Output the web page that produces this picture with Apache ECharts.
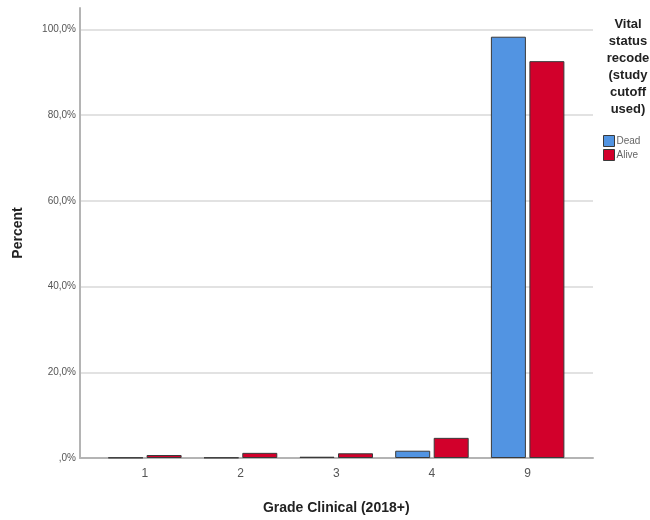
<!DOCTYPE html>
<html>
<head>
<meta charset="utf-8">
<script src="https://cdn.jsdelivr.net/npm/echarts@6/dist/echarts.min.js"></script>
<style>
  html, body { margin: 0; padding: 0; background: #fff; }
  #chart { width: 650px; height: 520px; }
</style>
</head>
<body>
<div id="chart"></div>
<script>
// Grade clinical categories and percent of cases within each vital status
const categories = ['1', '2', '3', '4', '9'];
const deadValues = [0.1, 0.1, 0.3, 1.7, 98.3];
const aliveValues = [0.7, 1.2, 1.1, 4.7, 92.6];
const yTicks = [0, 20, 40, 60, 80, 100];
const legendNames = ['Dead', 'Alive'];

const fmtPct = v => (v === 0 ? ',0%' : v.toFixed(1).replace('.', ',') + '%');

const chart = echarts.init(document.getElementById('chart'), null, { renderer: 'canvas' });

chart.setOption({
  backgroundColor: '#ffffff',
  animation: false,
  textStyle: { fontFamily: 'Liberation Sans, Arial, sans-serif' },
  title: {
    text: 'Vital\nstatus\nrecode\n(study\ncutoff\nused)',
    left: 623,
    top: 11,
    textAlign: 'center',
    textStyle: { fontSize: 13, fontWeight: 'bold', color: '#222', lineHeight: 17 }
  },
  legend: {
    data: legendNames,
    orient: 'vertical',
    left: 598,
    top: 130,
    itemWidth: 11,
    itemHeight: 11,
    itemGap: 2,
    icon: 'rect',
    itemStyle: { borderWidth: 1, borderColor: '#3a3a3a' },
    textStyle: { fontSize: 10, color: '#666', padding: [0, 0, 0, -3] }
  },
  grid: [
    // outer frame: axis lines and gridlines
    { left: 80, right: 57, top: 8, bottom: 62 },
    // bars
    { left: 97, right: 74.5, top: 8, bottom: 62 }
  ],
  xAxis: [
    {
      gridIndex: 0,
      type: 'value',
      min: 0,
      max: 1,
      axisLine: { show: true, lineStyle: { color: '#b4b4b4', width: 2 } },
      axisTick: { show: false },
      axisLabel: { show: false },
      splitLine: { show: false }
    },
    {
      gridIndex: 1,
      type: 'category',
      data: categories,
      axisLine: { show: false },
      axisTick: { show: false },
      axisLabel: { fontSize: 12, color: '#555', margin: 10 },
      name: 'Grade Clinical (2018+)',
      nameLocation: 'middle',
      nameGap: 43,
      nameTextStyle: { fontSize: 14, fontWeight: 'bold', color: '#222' }
    }
  ],
  yAxis: [
    {
      gridIndex: 0,
      type: 'value',
      min: 0,
      max: 105,
      interval: 20,
      axisLine: { show: true, lineStyle: { color: '#b4b4b4', width: 2 } },
      axisTick: { show: false },
      axisLabel: {
        fontSize: 10,
        color: '#555',
        margin: 4,
        showMaxLabel: false,
        formatter: v => (yTicks.indexOf(v) >= 0 ? fmtPct(v) : '')
      },
      splitLine: { show: true, showMinLine: false, showMaxLine: false, lineStyle: { color: '#d9d9d9', width: 1.5 } },
      name: 'Percent',
      nameLocation: 'middle',
      nameGap: 55,
      nameTextStyle: { fontSize: 14, fontWeight: 'bold', color: '#222' }
    },
    {
      gridIndex: 1,
      type: 'value',
      min: 0,
      max: 105,
      show: false
    }
  ],
  series: [
    {
      name: legendNames[0],
      type: 'bar',
      xAxisIndex: 1,
      yAxisIndex: 1,
      data: deadValues,
      barWidth: 35,
      barGap: '10%',
      itemStyle: { color: '#5294e2', borderColor: '#3a3a3a', borderWidth: 1 }
    },
    {
      name: legendNames[1],
      type: 'bar',
      xAxisIndex: 1,
      yAxisIndex: 1,
      data: aliveValues,
      barWidth: 35,
      barGap: '10%',
      itemStyle: { color: '#d2002b', borderColor: '#3a3a3a', borderWidth: 1 }
    }
  ]
});
</script>
</body>
</html>
